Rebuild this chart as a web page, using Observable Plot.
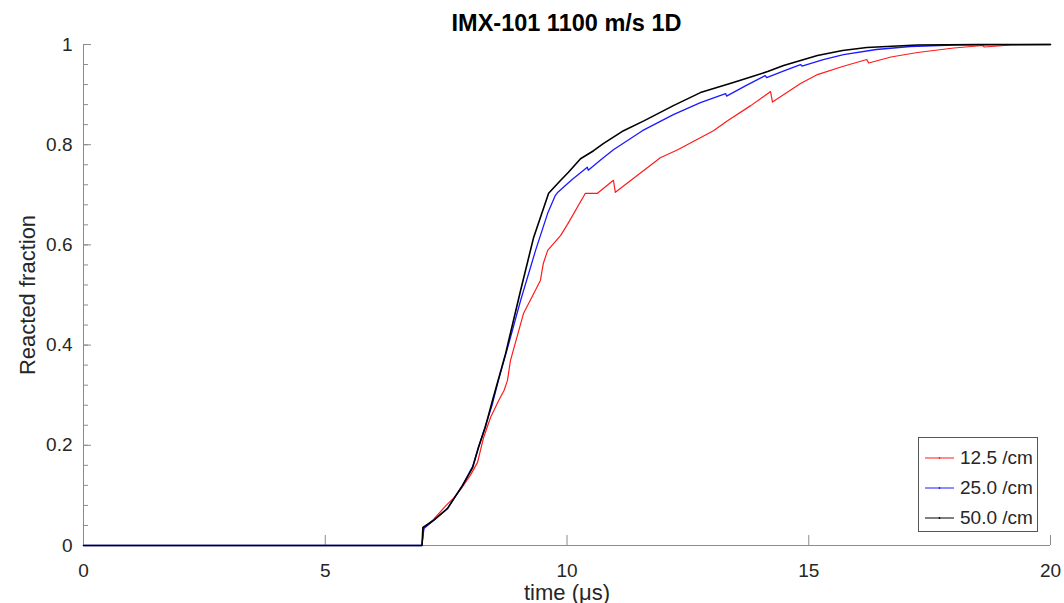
<!DOCTYPE html>
<html>
<head>
<meta charset="utf-8">
<script src="https://cdn.jsdelivr.net/npm/d3@7"></script>
<script src="https://cdn.jsdelivr.net/npm/@observablehq/plot@0.6"></script>
<style>
  html, body { margin: 0; padding: 0; background: #fff; }
  #wrap { position: relative; width: 1064px; height: 603px; font-family: "Liberation Sans", Arial, sans-serif; color: #262626; }
  #title { height: 36px; box-sizing: border-box; padding: 12px 14px 0 83px; text-align: center; font: bold 23.5px/23px "Liberation Sans", Arial, sans-serif; color: #000; }
  #legend { position: absolute; left: 918px; top: 437px; width: 120px; height: 95px; box-sizing: border-box; border: 1px solid #555; background: #fff; padding-top: 5px; }
  .row { height: 30px; display: flex; align-items: center; font-size: 19px; color: #262626; }
  .row svg { margin-left: 6px; margin-right: 6px; }
</style>
</head>
<body>
<div id="wrap">
  <div id="title">IMX-101 1100 m/s 1D</div>
  <div id="chart"></div>
  <div id="legend"></div>
</div>
<script>
// ---- data ----
const seriesNames = ["12.5 /cm", "25.0 /cm", "50.0 /cm"];
const seriesColors = ["#ff1a1a", "#1a1aff", "#000000"];

const t125 = [0, 7.0, 7.04, 7.24, 7.5, 7.65, 7.8, 8.0, 8.15, 8.27, 8.42, 8.58, 8.7, 8.77, 8.83, 9.1, 9.45, 9.51, 9.6, 9.87, 10.01, 10.38, 10.63, 10.96, 11.0, 11.93, 12.29, 13.03, 13.32, 13.8, 14.21, 14.25, 14.83, 15.18, 15.7, 16.2, 16.24, 16.7, 17.25, 18.0, 18.6, 18.63, 19.2, 20];
const f125 = [0, 0, 0.036, 0.052, 0.08, 0.094, 0.112, 0.14, 0.166, 0.214, 0.256, 0.288, 0.31, 0.33, 0.369, 0.463, 0.529, 0.563, 0.589, 0.619, 0.641, 0.703, 0.703, 0.729, 0.705, 0.774, 0.79, 0.828, 0.848, 0.878, 0.906, 0.885, 0.922, 0.94, 0.956, 0.97, 0.963, 0.975, 0.984, 0.993, 0.998, 0.995, 0.999, 1.0];

const t25 = [0, 7.0, 7.04, 7.24, 7.53, 7.84, 8.05, 8.17, 8.31, 8.45, 8.58, 8.83, 9.04, 9.35, 9.6, 9.76, 9.8, 10.1, 10.42, 10.44, 10.7, 10.96, 11.56, 12.2, 12.76, 13.28, 13.3, 13.7, 14.1, 14.13, 14.5, 14.83, 14.86, 15.3, 15.72, 16.4, 17.1, 18.0, 20];
const f25 = [0, 0, 0.034, 0.05, 0.074, 0.12, 0.158, 0.196, 0.238, 0.28, 0.329, 0.415, 0.489, 0.589, 0.663, 0.699, 0.704, 0.73, 0.755, 0.749, 0.77, 0.79, 0.828, 0.86, 0.884, 0.902, 0.897, 0.918, 0.938, 0.934, 0.948, 0.96, 0.957, 0.97, 0.98, 0.99, 0.996, 0.999, 1.0];

const t50 = [0, 7.0, 7.02, 7.24, 7.53, 7.84, 8.05, 8.17, 8.31, 8.46, 8.73, 9.04, 9.31, 9.62, 9.87, 10.03, 10.28, 10.55, 10.75, 11.17, 11.6, 12.2, 12.76, 13.44, 13.8, 14.15, 14.48, 14.83, 15.18, 15.7, 16.2, 17.25, 18.5, 20];
const f50 = [0, 0, 0.036, 0.05, 0.074, 0.12, 0.156, 0.196, 0.236, 0.29, 0.383, 0.509, 0.615, 0.703, 0.729, 0.745, 0.772, 0.788, 0.802, 0.828, 0.848, 0.878, 0.904, 0.924, 0.935, 0.946, 0.958, 0.968, 0.978, 0.988, 0.994, 0.999, 1.0, 1.0];

const xTicks = [0, 5, 10, 15, 20];
const yTicks = [0, 0.2, 0.4, 0.6, 0.8, 1];
const yMinorTicks = d3.range(1, 25).map(i => +(i * 0.04).toFixed(2));

// ---- build tables ----
const mk = (ts, fs) => ts.map((t, i) => ({t, f: fs[i]}));
const d125 = mk(t125, f125), d25 = mk(t25, f25), d50 = mk(t50, f50);

const axisColor = "#8c8c8c";
const chart = Plot.plot({
  width: 1064,
  height: 567,
  marginLeft: 83,
  marginRight: 14,
  marginTop: 8,
  marginBottom: 58,
  style: {overflow: "visible", fontFamily: "'Liberation Sans', Arial, sans-serif", color: "#262626", background: "transparent"},
  x: {domain: [0, 20]},
  y: {domain: [0, 1]},
  marks: [
    // axis lines
    Plot.ruleX([0], {stroke: axisColor, strokeWidth: 1}),
    Plot.ruleY([0], {stroke: axisColor, strokeWidth: 1}),
    // inward ticks
    Plot.axisY(yMinorTicks, {tickSize: -5, tickFormat: () => "", stroke: axisColor, label: null}),
    Plot.axisY(yTicks, {tickSize: -8, tickFormat: () => "", stroke: axisColor, label: null}),
    Plot.axisX(xTicks, {tickSize: -10, tickFormat: () => "", stroke: axisColor, label: null}),
    // tick labels + axis labels
    Plot.axisY(yTicks, {tickSize: 0, tickPadding: 11, fontSize: 19, tickFormat: d => String(d),
      label: "Reacted fraction", labelAnchor: "center", labelOffset: 64, labelArrow: false}),
    Plot.axisX(xTicks, {tickSize: 0, tickPadding: 18, fontSize: 19, tickFormat: d => String(d),
      label: "time (μs)", labelAnchor: "center", labelOffset: 54, labelArrow: false}),
    // series
    Plot.line(d125, {x: "t", y: "f", stroke: seriesColors[0], strokeWidth: 1.2}),
    Plot.line(d25, {x: "t", y: "f", stroke: seriesColors[1], strokeWidth: 1.3}),
    Plot.line(d50, {x: "t", y: "f", stroke: seriesColors[2], strokeWidth: 1.6})
  ]
});
// axis label font size
chart.querySelectorAll("g[aria-label='y-axis label'] text, g[aria-label='x-axis label'] text").forEach(t => t.setAttribute("font-size", "22"));
document.getElementById("chart").appendChild(chart);

// legend
const legend = document.getElementById("legend");
seriesNames.forEach((name, i) => {
  const row = document.createElement("div");
  row.className = "row";
  row.innerHTML = `<svg width="29" height="6"><line x1="0" y1="3" x2="29" y2="3" stroke="${seriesColors[i]}" stroke-width="1"/><circle cx="14.5" cy="3" r="0.9" fill="${seriesColors[i]}"/></svg><span>${name}</span>`;
  legend.appendChild(row);
});
</script>
</body>
</html>
